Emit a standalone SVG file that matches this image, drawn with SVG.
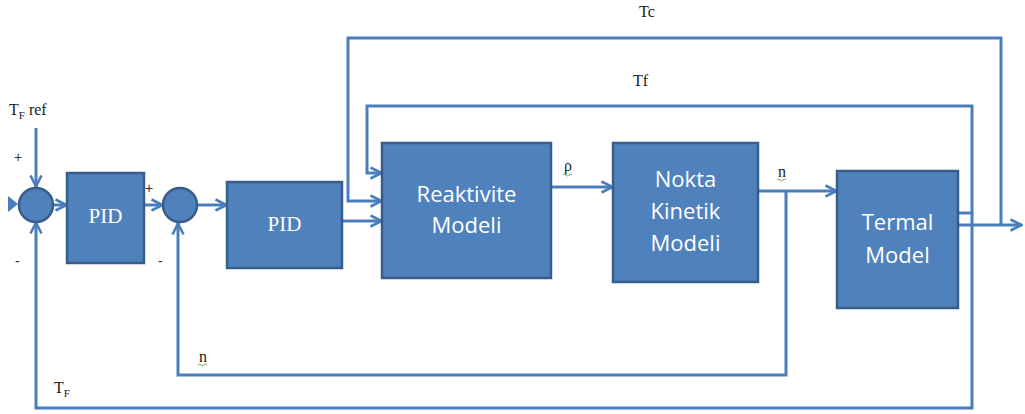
<svg xmlns="http://www.w3.org/2000/svg" width="1025" height="414" viewBox="0 0 1025 414">
  <style>
    .blk { fill: #4f81bd; stroke: #385d8a; stroke-width: 2.5; }
    .wire { fill: none; stroke: #4a7ebb; stroke-width: 3; stroke-linejoin: miter; }
    .arr { marker-end: url(#head); }
    .btxt { font-family: "Open Sans", "Liberation Sans", sans-serif; font-size: 22px; fill: #ffffff; text-anchor: middle; }
    .ptxt { font-family: "Liberation Serif", serif; font-size: 21px; fill: #ffffff; text-anchor: middle; }
    .lbl { font-family: "Liberation Serif", serif; font-size: 16px; fill: #1a1a1a; }
    .sign { font-family: "Liberation Sans", sans-serif; font-size: 14px; fill: #333333; }
    .squig { fill: none; stroke: #6aa84f; stroke-width: 1; }
  </style>
  <defs>
    <marker id="head" viewBox="0 0 14 14" refX="13" refY="7" markerWidth="14" markerHeight="14" markerUnits="userSpaceOnUse" orient="auto">
      <path d="M1.5,1.5 L12.5,7 L1.5,12.5" fill="none" stroke="#4a7ebb" stroke-width="2.6"/>
    </marker>
  </defs>

  <rect width="1025" height="414" fill="#ffffff"/>

  <g id="connectors">
    <!-- reference input -->
    <path class="wire arr" d="M36,128 V187"/>
    <!-- stub arriving from the left edge -->
    <path d="M8,196 L18,204 L8,212 Z" fill="#4a7ebb"/>
    <!-- forward path -->
    <path class="wire arr" d="M53,205 H67"/>
    <path class="wire arr" d="M144,205 H163"/>
    <path class="wire arr" d="M198,205 H227"/>
    <path class="wire arr" d="M342,221 H382"/>
    <path class="wire arr" d="M551,187 H613"/>
    <path class="wire arr" d="M758,191 H837"/>
    <!-- Tc loop and plant output -->
    <path class="wire arr" d="M958,225 H1022"/>
    <path class="wire arr" d="M1001,225 V38 H348 V201 H382"/>
    <!-- Tf loop -->
    <path class="wire arr" d="M958,213 H972 V106 H367 V173 H382"/>
    <!-- TF feedback to first summing point -->
    <path class="wire arr" d="M972,213 V408 H36 V222"/>
    <!-- n feedback to second summing point -->
    <path class="wire arr" d="M786,191 V375 H178 V223"/>
  </g>

  <g id="sum1">
    <circle class="blk" cx="36" cy="205" r="17"/>
  </g>
  <g id="sum2">
    <circle class="blk" cx="180" cy="205" r="17"/>
  </g>

  <g id="pid1">
    <rect class="blk" x="67" y="173" width="77" height="90"/>
    <text class="ptxt" x="105.5" y="223">PID</text>
  </g>
  <g id="pid2">
    <rect class="blk" x="227" y="182" width="115" height="86"/>
    <text class="ptxt" x="284.5" y="231">PID</text>
  </g>
  <g id="reaktivite">
    <rect class="blk" x="382" y="143" width="169" height="135"/>
    <text class="btxt" x="466.5" y="202">Reaktivite</text>
    <text class="btxt" x="466.5" y="233">Modeli</text>
  </g>
  <g id="nokta">
    <rect class="blk" x="613" y="143" width="145" height="139"/>
    <text class="btxt" x="685.5" y="187">Nokta</text>
    <text class="btxt" x="685.5" y="219">Kinetik</text>
    <text class="btxt" x="685.5" y="251">Modeli</text>
  </g>
  <g id="termal">
    <rect class="blk" x="837" y="171" width="121" height="137"/>
    <text class="btxt" x="897.5" y="230">Termal</text>
    <text class="btxt" x="897.5" y="263">Model</text>
  </g>

  <g id="labels">
    <text class="lbl" x="9" y="115">T<tspan font-size="11" dy="4">F</tspan><tspan dy="-4"> ref</tspan></text>
    <text class="sign" x="14" y="162">+</text>
    <text class="sign" x="15" y="266">-</text>
    <text class="sign" x="145" y="193">+</text>
    <text class="sign" x="158" y="266">-</text>
    <text class="lbl" x="639" y="17">Tc</text>
    <text class="lbl" x="633" y="86">Tf</text>
    <text class="lbl" x="564" y="171">ρ</text>
    <path class="squig" d="M563,175 q1.5,-2 3,0 t3,0 t3,0"/>
    <text class="lbl" x="778" y="177">n</text>
    <path class="squig" d="M777,180 q1.5,-2 3,0 t3,0 t3,0"/>
    <text class="lbl" x="199" y="362">n</text>
    <path class="squig" d="M198,365 q1.5,-2 3,0 t3,0 t3,0"/>
    <text class="lbl" x="54" y="393">T<tspan font-size="11" dy="4">F</tspan></text>
  </g>
</svg>
